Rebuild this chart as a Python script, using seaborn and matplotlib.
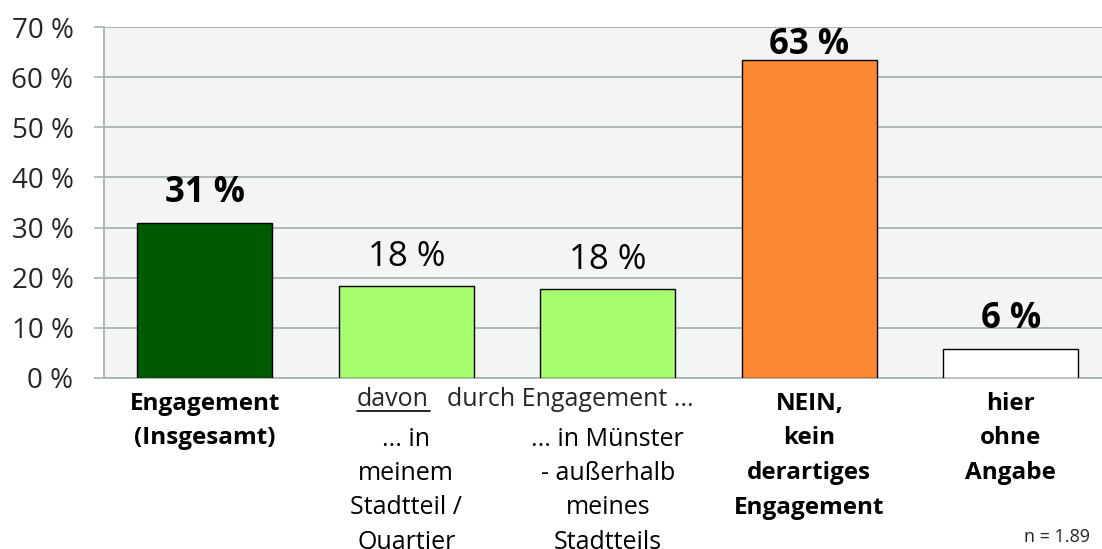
import matplotlib
matplotlib.use("Agg")
import matplotlib.pyplot as plt
import seaborn as sns
import pandas as pd
from matplotlib.ticker import FuncFormatter

sns.set_theme(style="white")
plt.rcParams['font.family'] = ['Open Sans', 'DejaVu Sans']

categories = ["Engagement (Insgesamt)", "davon in meinem Stadtteil / Quartier",
              "davon in Münster außerhalb meines Stadtteils",
              "NEIN, kein derartiges Engagement", "hier ohne Angabe"]
values = [31, 18.4, 17.8, 63.4, 5.8]
value_labels = ["31 %", "18 %", "18 %", "63 %", "6 %"]
label_bold = [True, False, False, True, True]
colors = ["#005A00", "#A6FF6E", "#A6FF6E", "#FF8833", "#FFFFFF"]
xtick_texts = ["Engagement\n(Insgesamt)",
               "... in\nmeinem\nStadtteil /\nQuartier",
               "... in Münster\n- außerhalb\nmeines\nStadtteils",
               "NEIN,\nkein\nderartiges\nEngagement",
               "hier\nohne\nAngabe"]
xtick_bold = [True, False, False, True, True]
y_ticks = [0, 10, 20, 30, 40, 50, 60, 70]
note = "n = 1.89"

df = pd.DataFrame({"cat": categories, "val": values})

W, H = 1102, 549
fig = plt.figure(figsize=(W / 100, H / 100), dpi=100)
ax = fig.add_axes([104 / W, (H - 378) / H, (1111.5 - 104) / W, (378 - 27) / H])
ax.set_facecolor("#F2F5F4")

sns.barplot(data=df, x="cat", y="val", hue="cat", palette=colors, legend=False,
            saturation=1, width=0.67, edgecolor="black", linewidth=1.0, ax=ax, zorder=3)

ax.set_ylim(0, 70)
ax.set_xlim(-0.5, 4.5)
ax.set_yticks(y_ticks)
ax.yaxis.set_major_formatter(FuncFormatter(lambda v, p: f"{int(v)} %"))
ax.tick_params(axis="y", which="major", length=7, width=1.2, color="#A8B4B0",
               labelsize=20, pad=15, left=True)
ax.tick_params(axis="x", length=0, labelbottom=False)
ax.grid(axis="y", color="#A8B4B0", linewidth=1.3, zorder=0)
ax.set_axisbelow(True)
ax.set_xlabel("")
ax.set_ylabel("")
for s in ["top", "right"]:
    ax.spines[s].set_visible(False)
for s in ["left", "bottom"]:
    ax.spines[s].set_color("#A8B4B0")
    ax.spines[s].set_linewidth(1.3)

offsets = [12, 12, 12, -3, 12]
for i, (v, lab, b) in enumerate(zip(values, value_labels, label_bold)):
    ax.annotate(lab, xy=(i, v), xytext=(0, offsets[i]), textcoords="offset pixels",
                ha="center", va="bottom", fontsize=25,
                fontweight="bold" if b else "normal", color="black")

line_px = 34.5
for i, (t, b) in enumerate(zip(xtick_texts, xtick_bold)):
    start = 439 if i in (1, 2) else 404
    for k, line in enumerate(t.split("\n")):
        ypix = start + k * line_px
        ax.annotate(line, xy=(i, 0), xycoords=("data", "axes fraction"),
                    xytext=(0, -(ypix - 378)), textcoords="offset pixels",
                    ha="center", va="center", fontsize=17.5 if b else 18,
                    fontweight="bold" if b else "normal", color="black",
                    annotation_clip=False)

# shared line spanning bars 2 and 3
fig.text(357 / W, (H - 399) / H, "davon", ha="left", va="center", fontsize=18)
fig.text(447 / W, (H - 399) / H, "durch Engagement ...", ha="left", va="center", fontsize=18)
fig.add_artist(plt.Line2D([357 / W, 430 / W], [(H - 411) / H, (H - 411) / H],
                          color="black", linewidth=1.2))

fig.text(1090 / W, (H - 537) / H, note, ha="right", va="center", fontsize=13)

fig.savefig("out.png", dpi=100)
